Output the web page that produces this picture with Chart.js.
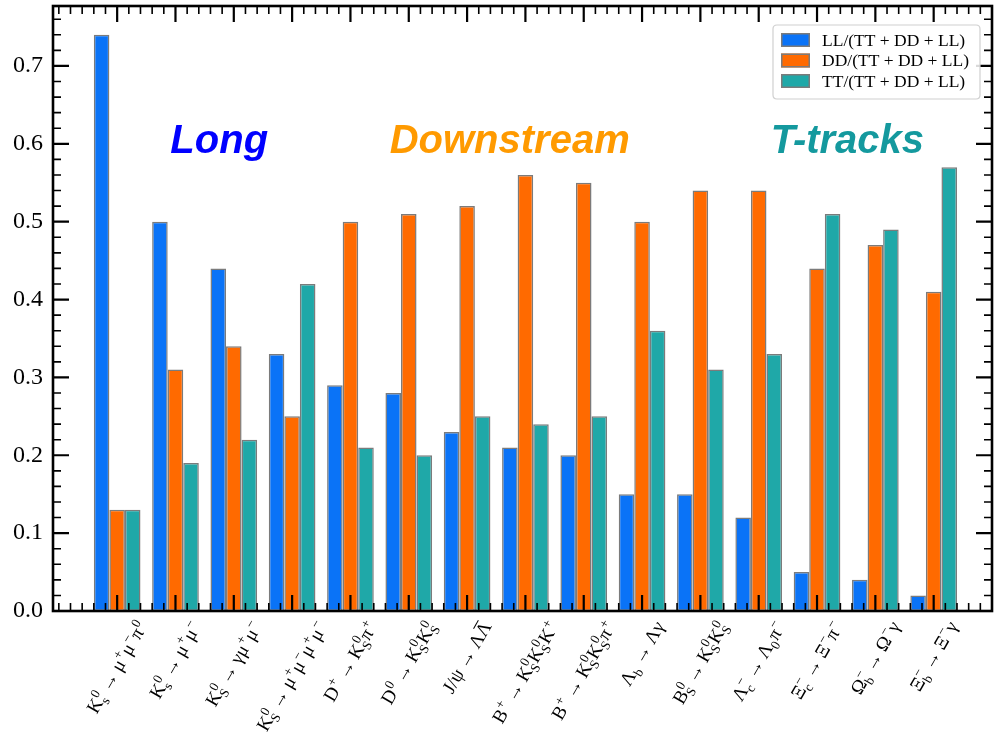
<!DOCTYPE html>
<html>
<head>
<meta charset="utf-8">
<script src="https://cdn.jsdelivr.net/npm/chart.js@4.4.0/dist/chart.umd.min.js"></script>
<style>
  html, body { margin: 0; padding: 0; background: #ffffff; }
  #wrap { width: 995px; height: 735px; }
</style>
</head>
<body>
<div id="wrap"><canvas id="c" width="995" height="735"></canvas></div>
<script>
// Decay channels (light markup: _{..} subscript, ^{..} superscript, U+0304 = bar)
const decays = [
  'K_{s}^{0}→μ^{+}μ^{−}π^{0}',
  'K_{s}^{0}→μ^{+}μ^{−}',
  'K_{S}^{0}→γμ^{+}μ^{−}',
  'K_{S}^{0}→μ^{+}μ^{−}μ^{+}μ^{−}',
  'D^{+}→K_{S}^{0}π^{+}',
  'D^{0}→K_{S}^{0}K_{S}^{0}',
  'J/ψ→ΛΛ\u0304',
  'B^{+}→K_{S}^{0}K_{S}^{0}K^{+}',
  'B^{+}→K_{S}^{0}K_{S}^{0}π^{+}',
  'Λ_{b}→Λγ',
  'B_{S}^{0}→K_{S}^{0}K_{S}^{0}',
  'Λ_{c}^{−}→Λ_{0}π^{−}',
  'Ξ_{c}^{−}→Ξ^{−}π^{−}',
  'Ω_{b}^{−}→Ω^{−}γ',
  'Ξ_{b}^{−}→Ξ^{−}γ'
];

// Track-type fractions per channel
const llFrac = [0.74, 0.50, 0.44, 0.33, 0.29, 0.28, 0.23, 0.21, 0.20, 0.15, 0.15, 0.12, 0.05, 0.04, 0.02];
const ddFrac = [0.13, 0.31, 0.34, 0.25, 0.50, 0.51, 0.52, 0.56, 0.55, 0.50, 0.54, 0.54, 0.44, 0.47, 0.41];
const ttFrac = [0.13, 0.19, 0.22, 0.42, 0.21, 0.20, 0.25, 0.24, 0.25, 0.36, 0.31, 0.33, 0.51, 0.49, 0.57];

const seriesLabels = ['LL/(TT + DD + LL)', 'DD/(TT + DD + LL)', 'TT/(TT + DD + LL)'];
const yTicks = [0.0, 0.1, 0.2, 0.3, 0.4, 0.5, 0.6, 0.7];
const regionNames = ['Long', 'Downstream', 'T-tracks'];

const SERIF = '"Liberation Serif", "Times New Roman", serif';
const SANS = '"Liberation Sans", Arial, sans-serif';

// ---- small math-text renderer for the rotated channel labels ----
function parseMath(s) {
  const runs = [];
  let i = 0;
  while (i < s.length) {
    const ch = s[i];
    if ((ch === '_' || ch === '^') && s[i + 1] === '{') {
      const end = s.indexOf('}', i);
      const content = s.slice(i + 2, end);
      const last = runs[runs.length - 1];
      if (ch === '_') last.sub = content; else last.sup = content;
      i = end + 1;
    } else {
      const run = { base: ch, sub: '', sup: '', bar: false };
      i++;
      while (i < s.length && s[i] === '\u0304') { run.bar = true; i++; }
      runs.push(run);
    }
  }
  return runs;
}

function layoutMath(ctx, text, F) {
  const fs = F * 0.7;
  const items = [];
  let x = 0;
  for (const r of parseMath(text)) {
    const isArrow = r.base === '→';
    if (isArrow) x += F * 0.22;
    ctx.font = `${F}px ${SERIF}`;
    const bw = ctx.measureText(r.base).width;
    items.push({ t: r.base, x, dy: 0, size: F, bar: r.bar, w: bw });
    x += bw;
    ctx.font = `${fs}px ${SERIF}`;
    let sw = 0;
    if (r.sup) {
      sw = Math.max(sw, ctx.measureText(r.sup).width);
      items.push({ t: r.sup, x: x + F * 0.02, dy: -F * 0.40, size: fs });
    }
    if (r.sub) {
      sw = Math.max(sw, ctx.measureText(r.sub).width);
      items.push({ t: r.sub, x: x + F * 0.0, dy: F * 0.24, size: fs });
    }
    if (sw) x += sw + F * 0.04;
    if (isArrow) x += F * 0.22;
  }
  return { items, width: x };
}

const xLabelPlugin = {
  id: 'xLabels',
  afterDraw(chart, args, opts) {
    const { ctx, scales: { x }, chartArea } = chart;
    const F = opts.size;
    const ang = opts.angle * Math.PI / 180;
    const h = F * 1.25;
    ctx.save();
    ctx.fillStyle = '#000';
    ctx.strokeStyle = '#000';
    decays.forEach((lab, i) => {
      const lay = layoutMath(ctx, lab, F);
      const w = lay.width;
      const bbH = w * Math.sin(ang) + h * Math.cos(ang);
      const cx = x.getPixelForValue(i);
      const cy = chartArea.bottom + opts.pad + bbH / 2;
      ctx.save();
      ctx.translate(cx, cy);
      ctx.rotate(-ang);
      const base = F * 0.32;
      ctx.textBaseline = 'alphabetic';
      ctx.textAlign = 'left';
      for (const it of lay.items) {
        ctx.font = `${it.size}px ${SERIF}`;
        ctx.fillText(it.t, it.x - w / 2, base + it.dy);
        if (it.bar) {
          ctx.lineWidth = 1;
          ctx.beginPath();
          ctx.moveTo(it.x - w / 2 + it.w * 0.15, base - F * 0.78);
          ctx.lineTo(it.x - w / 2 + it.w * 0.85, base - F * 0.78);
          ctx.stroke();
        }
      }
      ctx.restore();
    });
    ctx.restore();
  }
};

// ---- frame with inward ticks on all four sides ----
const framePlugin = {
  id: 'frame',
  afterDatasetsDraw(chart) {
    const { ctx, chartArea: a, scales: { x, y } } = chart;
    ctx.save();
    ctx.strokeStyle = '#000';
    ctx.lineCap = 'butt';
    const MAJ = 16, MIN = 8;
    // x ticks: every 0.2 category, major at channel centres
    for (let k = -5; k <= 75; k++) {
      const v = k / 5;
      const px = x.getPixelForValue(v);
      if (px < a.left + 1 || px > a.right - 1) continue;
      const major = (k % 5 === 0) && v >= 0 && v < decays.length;
      const len = major ? MAJ : MIN;
      ctx.lineWidth = major ? 2.2 : 1.6;
      ctx.beginPath();
      ctx.moveTo(px, a.bottom); ctx.lineTo(px, a.bottom - len);
      ctx.moveTo(px, a.top); ctx.lineTo(px, a.top + len);
      ctx.stroke();
    }
    // y ticks: every 0.02, major at 0.1
    for (let k = 0; k <= 40; k++) {
      const v = k / 50;
      const py = y.getPixelForValue(v);
      if (py < a.top + 1 || py > a.bottom) continue;
      const major = k % 5 === 0;
      const len = major ? MAJ : MIN;
      ctx.lineWidth = major ? 2.2 : 1.6;
      ctx.beginPath();
      ctx.moveTo(a.left, py); ctx.lineTo(a.left + len, py);
      ctx.moveTo(a.right, py); ctx.lineTo(a.right - len, py);
      ctx.stroke();
    }
    ctx.lineWidth = 2.6;
    ctx.strokeRect(a.left, a.top, a.right - a.left, a.bottom - a.top);
    ctx.restore();
  }
};

// ---- region captions ----
const regionPlugin = {
  id: 'regions',
  afterDatasetsDraw(chart, args, opts) {
    const { ctx, scales: { x, y } } = chart;
    ctx.save();
    ctx.font = `italic bold ${opts.size}px ${SANS}`;
    ctx.textAlign = 'center';
    ctx.textBaseline = 'alphabetic';
    regionNames.forEach((name, i) => {
      ctx.fillStyle = opts.colors[i];
      ctx.fillText(name, x.getPixelForValue(opts.xAt[i]), y.getPixelForValue(opts.yAt));
    });
    ctx.restore();
  }
};

// ---- legend box in the upper right of the plot ----
const legendPlugin = {
  id: 'boxLegend',
  afterDraw(chart, args, opts) {
    const { ctx, chartArea: a } = chart;
    const right = a.right - opts.right, top = a.top + opts.top;
    const W = opts.width, H = opts.height, left = right - W, r = 4;
    ctx.save();
    ctx.beginPath();
    ctx.moveTo(left + r, top);
    ctx.lineTo(right - r, top); ctx.quadraticCurveTo(right, top, right, top + r);
    ctx.lineTo(right, top + H - r); ctx.quadraticCurveTo(right, top + H, right - r, top + H);
    ctx.lineTo(left + r, top + H); ctx.quadraticCurveTo(left, top + H, left, top + H - r);
    ctx.lineTo(left, top + r); ctx.quadraticCurveTo(left, top, left + r, top);
    ctx.closePath();
    ctx.fillStyle = 'rgba(255,255,255,0.85)';
    ctx.fill();
    ctx.strokeStyle = '#d0d0d0';
    ctx.lineWidth = 1.2;
    ctx.stroke();
    chart.data.datasets.forEach((ds, i) => {
      const cy = top + opts.firstRow + i * opts.rowGap;
      ctx.fillStyle = ds.backgroundColor;
      ctx.fillRect(left + 8, cy - 7, 29, 14);
      ctx.strokeStyle = ds.borderColor;
      ctx.lineWidth = 1.5;
      ctx.strokeRect(left + 8.75, cy - 6.25, 27.5, 12.5);
      ctx.fillStyle = '#000';
      ctx.font = `${opts.fontSize}px ${SERIF}`;
      ctx.textAlign = 'left';
      ctx.textBaseline = 'middle';
      ctx.fillText(ds.label, left + 49, cy + 1);
    });
    ctx.restore();
  }
};

const barColors = ['#0a73f7', '#ff6a00', '#1fa8a8'];
const seriesData = [llFrac, ddFrac, ttFrac];

new Chart(document.getElementById('c'), {
  type: 'bar',
  data: {
    datasets: seriesData.map((vals, s) => ({
      label: seriesLabels[s],
      data: vals.map((v, i) => ({ x: i, y: v })),
      backgroundColor: barColors[s],
      borderColor: '#7b7b7b',
      borderWidth: 1.5,
      borderSkipped: false,
      barPercentage: 1.0,
      categoryPercentage: 0.8
    }))
  },
  options: {
    responsive: false,
    animation: false,
    devicePixelRatio: 1,
    layout: { padding: { top: 6, right: 3, left: 0, bottom: 0 } },
    scales: {
      x: {
        type: 'linear',
        min: -1.1,
        max: 15,
        offset: false,
        afterBuildTicks(s) { s.ticks = decays.map((_, i) => ({ value: i })); },
        ticks: { display: false },
        grid: { display: false, drawTicks: false, offset: false },
        border: { display: false },
        afterFit(s) { s.height = 124; s.paddingLeft = 0; s.paddingRight = 0; }
      },
      y: {
        min: 0,
        max: 0.777,
        afterBuildTicks(s) { s.ticks = yTicks.map(v => ({ value: v })); },
        ticks: {
          color: '#000',
          padding: 10,
          font: { family: SERIF, size: 24 },
          callback: v => Number(v).toFixed(1)
        },
        grid: { display: false, drawTicks: false },
        border: { display: false },
        afterFit(s) { s.width = 53; s.paddingTop = 0; s.paddingBottom = 0; }
      }
    },
    plugins: {
      legend: { display: false },
      tooltip: { enabled: false },
      xLabels: { size: 19, angle: 60, pad: 6 },
      regions: { size: 40, xAt: [1.75, 6.73, 12.52], yAt: 0.588, colors: ['#0000ff', '#ff9a00', '#14999e'] },
      boxLegend: { right: 12, top: 19, width: 207, height: 74, firstRow: 15, rowGap: 20.5, fontSize: 17.5 }
    }
  },
  plugins: [framePlugin, regionPlugin, xLabelPlugin, legendPlugin]
});
</script>
</body>
</html>
